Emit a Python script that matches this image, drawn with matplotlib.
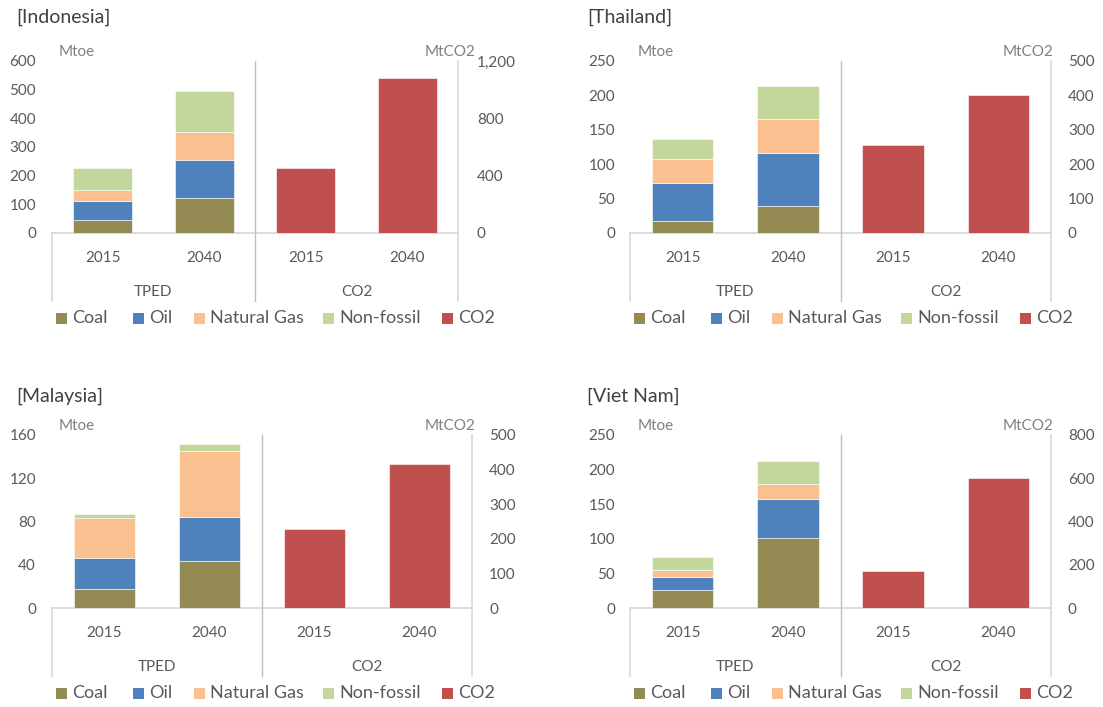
import matplotlib
matplotlib.use("Agg")
import matplotlib.pyplot as plt
from matplotlib.patches import Rectangle
from matplotlib.ticker import FuncFormatter, MultipleLocator
import matplotlib.transforms as mtrans

plt.rcParams['font.family'] = ['Lato', 'DejaVu Sans']

# ---------------- data ----------------
countries = ["Indonesia", "Thailand", "Malaysia", "Viet Nam"]
years = ["2015", "2040"]
groups = ["TPED", "CO2"]
series = ["Coal", "Oil", "Natural Gas", "Non-fossil", "CO2"]

coal = [[44, 121], [18, 39.5], [18, 43.5], [26, 100.7]]
oil = [[68, 133], [54, 76.5], [28, 40.5], [19, 57.3]]
gas = [[37, 99], [36, 50], [37, 61.5], [10, 21]]
nonfossil = [[79, 143], [29, 48], [3.6, 6.2], [19, 33]]
co2 = [[455, 1080], [255, 401], [228, 416], [170, 599]]

left_max = [600, 250, 160, 250]
left_step = [100, 50, 40, 50]
right_max = [1200, 500, 500, 800]
right_step = [400, 100, 100, 200]

colors = ["#948A54", "#4F81BD", "#FAC090", "#C3D69B", "#C0504D"]
TXT = "#595959"
GRID = "#D9D9D9"
SEP = "#BFBFBF"

W, H = 1103, 707
fig = plt.figure(figsize=(W / 100, H / 100), dpi=100)

# plot area pixel geometry per panel: left, right, top, zero
geo = [(52, 458, 61, 233), (630, 1051, 61, 233),
       (52, 472, 435, 608), (630, 1051, 435, 608)]
title_pos = [(16, 17), (587, 17), (16, 396), (587, 396)]
lpad = [16, 15, 16, 15]
rpad = [19, 17, 17, 17]
mtco2_off = [18, 3, 4, 3]
mtoe_off = [7, 8, 7, 8]
PT = 0.72  # px -> pt


def fx(px):
    return px / W


def fy(py):
    return 1 - py / H


for i, c in enumerate(countries):
    L, R, T, Z = geo[i]
    ax = fig.add_axes([fx(L), fy(Z), fx(R) - fx(L), (Z - T) / H])
    ax2 = ax.twinx()
    ax.set_xlim(-0.5, 3.5)
    ax.set_ylim(0, left_max[i])
    ax2.set_ylim(0, right_max[i])
    bw = 0.585
    x_t = [0, 1]
    bottom = [0, 0]
    for vals, col in zip([coal[i], oil[i], gas[i], nonfossil[i]], colors[:4]):
        ax.bar(x_t, vals, bw, bottom=bottom, color=col, edgecolor="white",
               linewidth=0.4, zorder=3)
        bottom = [b + v for b, v in zip(bottom, vals)]
    ax2.bar([2, 3], co2[i], bw, color=colors[4], edgecolor="white",
            linewidth=0.4, zorder=3)

    for a in (ax, ax2):
        for s in a.spines.values():
            s.set_visible(False)
        a.set_xticks([])
    ax.yaxis.set_major_locator(MultipleLocator(left_step[i]))
    ax2.yaxis.set_major_locator(MultipleLocator(right_step[i]))
    ax2.yaxis.set_major_formatter(FuncFormatter(lambda v, p: f"{v:,.0f}"))
    ax.tick_params(axis='y', length=0, pad=lpad[i] * PT, labelsize=11, labelcolor=TXT)
    ax2.tick_params(axis='y', length=0, pad=rpad[i] * PT, labelsize=11, labelcolor=TXT)

    # axis line and separators
    hpx = Z - T
    ax.axhline(0, color=GRID, lw=1.3, zorder=2, clip_on=False)
    tr = mtrans.blended_transform_factory(ax.transData, ax.transAxes)
    bot = -68 / hpx
    ax.plot([-0.5, -0.5], [0, bot], transform=tr, color=GRID, lw=1.2, clip_on=False)
    ax.plot([1.5, 1.5], [1, bot], transform=tr, color=SEP, lw=1.0, clip_on=False)
    ax.plot([3.5, 3.5], [1, bot], transform=tr, color=GRID, lw=1.2, clip_on=False)

    # category labels
    labs = years + years
    for k, lab in enumerate(labs):
        ax.text(k, -25 / hpx, lab, transform=tr, ha="center", va="center",
                fontsize=11, color=TXT)
    for k, g in enumerate(groups):
        ax.text(0.5 + 2 * k, -59 / hpx, g, transform=tr, ha="center",
                va="center", fontsize=11, color=TXT)

    # units
    fig.text(fx(L + mtoe_off[i]), fy(T - 9), "Mtoe", ha="left", va="center",
             fontsize=11, color="#808080")
    fig.text(fx(R + mtco2_off[i]), fy(T - 9), "MtCO2", ha="right", va="center",
             fontsize=11, color="#808080")

    # title
    tx, ty = title_pos[i]
    fig.text(fx(tx), fy(ty), f"[{c}]", ha="left", va="center",
             fontsize=14, color="#404040")

    # legend
    offs = [0, 77, 138, 267, 386]
    ly = Z + 85
    for k, (name, col) in enumerate(zip(series, colors)):
        sx = L + 4 + offs[k]
        fig.add_artist(Rectangle((fx(sx), fy(ly + 5.5)), 11 / W, 11 / H,
                                 transform=fig.transFigure, color=col,
                                 linewidth=0))
        fig.text(fx(sx + 16), fy(ly), name, ha="left", va="center",
                 fontsize=13, color=TXT)

fig.savefig("out.png", dpi=100, facecolor="white")
